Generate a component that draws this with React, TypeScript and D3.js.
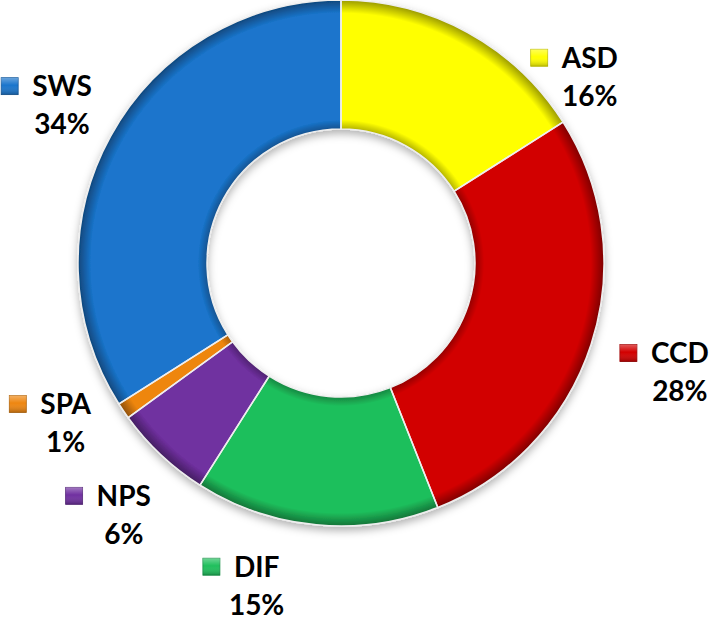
import { useEffect, useRef } from "react";
import * as d3 from "d3";

const categories = ["ASD", "CCD", "DIF", "NPS", "SPA", "SWS"];
const values = [16, 28, 15, 6, 1, 34];
const colors = ["#ffff00", "#d20000", "#1fbf5c", "#7030a0", "#ee8610", "#1a75cc"];

const WIDTH = 710;
const HEIGHT = 624;
const CX = 341;
const CY = 263;
const OUTER = 263;
const INNER = 134;
const LABEL_R = 340;
// best-fit label tweaks (deg offset, radius)
const LABEL_TWEAK: Record<string, { da?: number; r?: number }> = {
  ASD: { da: 22, r: 301 },
  DIF: { da: 12, r: 334 },
  SPA: { da: 6, r: 330 },
  SWS: { r: 336 },
};

export default function App() {
  const svgRef = useRef<SVGSVGElement | null>(null);

  useEffect(() => {
    if (!svgRef.current) return;
    const svg = d3.select(svgRef.current);
    svg.selectAll("*").remove();

    const defs = svg.append("defs");

    const shadow = defs.append("filter").attr("id", "shadow")
      .attr("x", "-10%").attr("y", "-10%").attr("width", "120%").attr("height", "125%");
    shadow.append("feDropShadow")
      .attr("dx", 0).attr("dy", 4).attr("stdDeviation", 4)
      .attr("flood-color", "#000").attr("flood-opacity", 0.3);

    // gradient lives in the donut group's coords (origin = centre)
    const bevel = defs.append("radialGradient").attr("id", "bevel")
      .attr("gradientUnits", "userSpaceOnUse")
      .attr("cx", 0).attr("cy", 0).attr("r", OUTER);
    const f = INNER / OUTER;
    [
      [f, 0.3], [f + 0.035, 0], [0.95, 0], [1, 0.4],
    ].forEach(([o, a]) => {
      bevel.append("stop").attr("offset", o).attr("stop-color", "#000").attr("stop-opacity", a);
    });

    const markerGrad = defs.append("linearGradient").attr("id", "markerGrad")
      .attr("x1", 0).attr("y1", 0).attr("x2", 0).attr("y2", 1);
    markerGrad.append("stop").attr("offset", 0).attr("stop-color", "#fff").attr("stop-opacity", 0.35);
    markerGrad.append("stop").attr("offset", 0.45).attr("stop-color", "#fff").attr("stop-opacity", 0);
    markerGrad.append("stop").attr("offset", 1).attr("stop-color", "#000").attr("stop-opacity", 0.25);

    const data = categories.map((c, i) => ({ name: c, value: values[i], color: colors[i] }));
    const pie = d3.pie<{ name: string; value: number; color: string }>()
      .value((d) => d.value).sort(null);
    const arcs = pie(data);
    const arc = d3.arc<d3.PieArcDatum<{ name: string; value: number; color: string }>>()
      .innerRadius(INNER).outerRadius(OUTER);

    const g = svg.append("g").attr("transform", `translate(${CX},${CY})`);
    const donut = g.append("g").attr("filter", "url(#shadow)");

    donut.selectAll("path.slice")
      .data(arcs)
      .join("path")
      .attr("class", "slice")
      .attr("d", arc)
      .attr("fill", (d) => d.data.color);

    donut.selectAll("path.bevel")
      .data(arcs)
      .join("path")
      .attr("class", "bevel")
      .attr("d", arc)
      .attr("fill", "url(#bevel)");

    donut.selectAll("path.edge")
      .data(arcs)
      .join("path")
      .attr("class", "edge")
      .attr("d", arc)
      .attr("fill", "none")
      .attr("stroke", "#eeeeee")
      .attr("stroke-width", 1.5);

    // labels
    const fontFamily = "Lato, 'Open Sans', sans-serif";
    const labels = svg.append("g");
    arcs.forEach((d) => {
      const tw = LABEL_TWEAK[d.data.name] || {};
      const mid = (d.startAngle + d.endAngle) / 2 + ((tw.da || 0) * Math.PI) / 180;
      const r = tw.r || LABEL_R;
      const bx = CX + r * Math.sin(mid);
      const by = CY - r * Math.cos(mid);

      const lg = labels.append("g");
      const name = lg.append("text")
        .attr("font-family", fontFamily)
        .attr("font-weight", 700)
        .attr("font-size", 28)
        .attr("fill", "#000")
        .text(d.data.name);
      const w = (name.node() as SVGTextElement).getComputedTextLength();
      const ms = 17;
      const gap = 14;
      const start = bx - (ms + gap + w) / 2;
      const nameCx = start + ms + gap + w / 2;
      name.attr("x", nameCx).attr("y", by - 5).attr("text-anchor", "middle");

      lg.append("rect")
        .attr("x", start).attr("y", by - 5 - 10 - ms / 2)
        .attr("width", ms).attr("height", ms)
        .attr("fill", d.data.color)
        .attr("stroke", d3.color(d.data.color)!.darker(0.8).formatHex())
        .attr("stroke-width", 0.8);
      lg.append("rect")
        .attr("x", start).attr("y", by - 5 - 10 - ms / 2)
        .attr("width", ms).attr("height", ms)
        .attr("fill", "url(#markerGrad)");

      lg.append("text")
        .attr("x", nameCx).attr("y", by + 33)
        .attr("text-anchor", "middle")
        .attr("font-family", fontFamily)
        .attr("font-weight", 700)
        .attr("font-size", 28)
        .attr("fill", "#000")
        .text(`${d.data.value}%`);
    });
  }, []);

  return (
    <svg
      ref={svgRef}
      width={WIDTH}
      height={HEIGHT}
      style={{ position: "absolute", left: 0, top: 0, background: "#fff" }}
    />
  );
}
